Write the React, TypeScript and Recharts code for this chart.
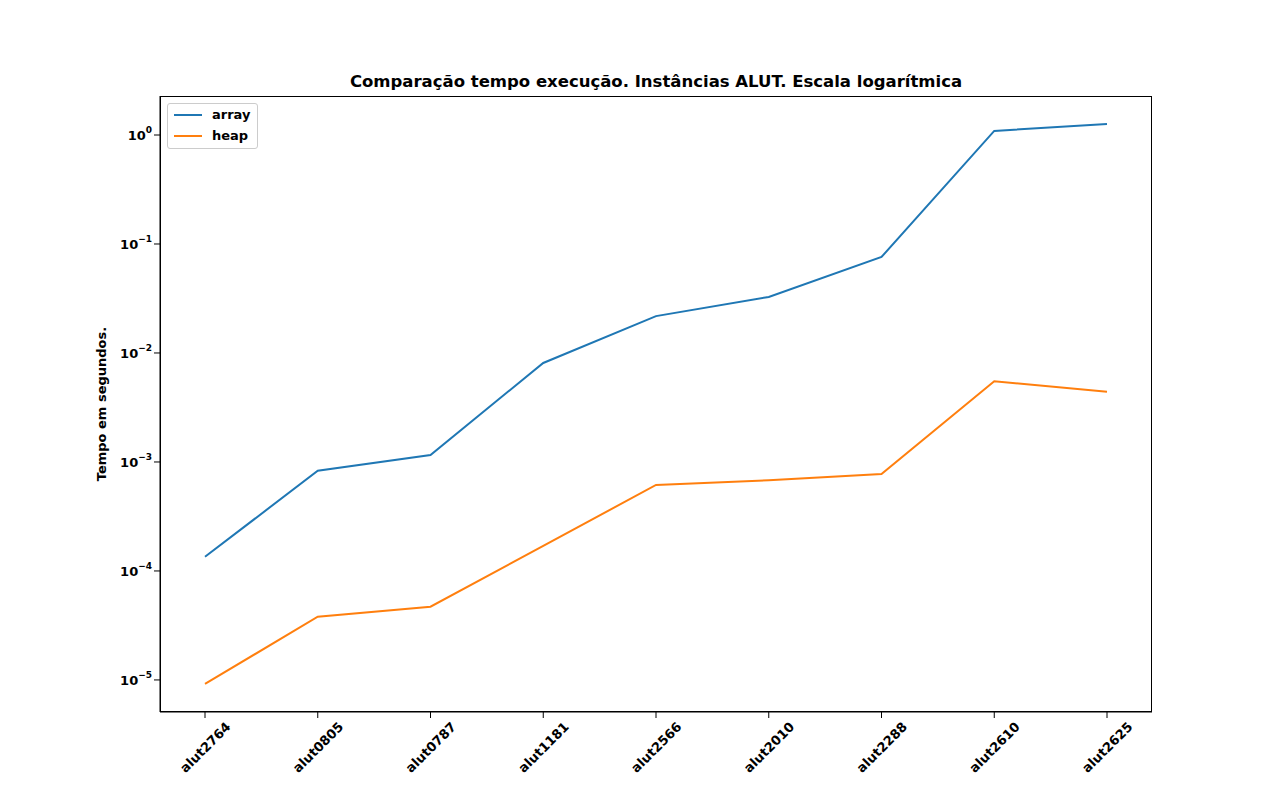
import { LineChart, Line, XAxis, YAxis } from "recharts";

const instances = ["alut2764", "alut0805", "alut0787", "alut1181", "alut2566", "alut2010", "alut2288", "alut2610", "alut2625"];
const arrayTimes = [1.35e-4, 8.3e-4, 1.16e-3, 8.1e-3, 0.0218, 0.0327, 0.076, 1.09, 1.26];
const heapTimes = [9.2e-6, 3.8e-5, 4.7e-5, 1.7e-4, 6.15e-4, 6.8e-4, 7.76e-4, 5.5e-3, 4.4e-3];
const yTicks = [1e-5, 1e-4, 1e-3, 1e-2, 1e-1, 1];
const yExps = ["−5", "−4", "−3", "−2", "−1", "0"];

const data = instances.map((name, i) => ({ name, array: arrayTimes[i], heap: heapTimes[i] }));
const font = "'DejaVu Sans', sans-serif";

const YTick = (props: any) => {
  const { x, y, payload } = props;
  const i = yTicks.findIndex((t) => Math.abs(Math.log10(t) - Math.log10(payload.value)) < 0.01);
  return (
    <text x={x} y={y + 5} textAnchor="end" fontSize={13} fontWeight="bold" fontFamily={font} fill="#000">
      10
      <tspan dy={-7} fontSize={9}>{yExps[i]}</tspan>
    </text>
  );
};

const XTick = (props: any) => {
  const { x, y, payload } = props;
  const cx = x;
  const cy = y + 27;
  return (
    <text x={cx} y={cy + 5} textAnchor="middle" transform={`rotate(-45 ${cx} ${cy})`} fontSize={13} fontWeight="bold" fontFamily={font} fill="#000">
      {payload.value}
    </text>
  );
};

export default function App() {
  return (
    <div style={{ position: "absolute", left: 0, top: 0, width: 1280, height: 800, background: "#fff", fontFamily: font }}>
      <div style={{ position: "absolute", top: 72, width: 1312, textAlign: "center", fontSize: 16.5, fontWeight: "bold" }}>
        Comparação tempo execução. Instâncias ALUT. Escala logarítmica
      </div>
      <LineChart width={1280} height={800} data={data} margin={{ top: 96, right: 128, bottom: 28, left: 100 }}>
        <XAxis dataKey="name" height={60} padding={{ left: 45, right: 45 }} tick={<XTick />} tickLine={{ stroke: "#000" }} axisLine={{ stroke: "#000" }} interval={0} />
        <YAxis scale="log" domain={[5.08e-6, 2.28]} allowDataOverflow ticks={yTicks} width={60} tick={<YTick />} tickLine={{ stroke: "#000" }} axisLine={{ stroke: "#000" }} />
        <Line type="linear" dataKey="array" stroke="#1f77b4" strokeWidth={2} dot={false} isAnimationActive={false} />
        <Line type="linear" dataKey="heap" stroke="#ff7f0e" strokeWidth={2} dot={false} isAnimationActive={false} />
      </LineChart>
      <div style={{ position: "absolute", left: 160, top: 96, width: 992, height: 616, border: "1px solid #000", boxSizing: "border-box", pointerEvents: "none" }} />
      <div style={{ position: "absolute", left: 101, top: 404, transform: "translate(-50%, -50%) rotate(-90deg)", fontSize: 13, fontWeight: "bold", whiteSpace: "nowrap" }}>
        Tempo em segundos.
      </div>
      <div style={{ position: "absolute", left: 167, top: 103, width: 91, height: 46, border: "1px solid #ccc", borderRadius: 3, boxSizing: "border-box", fontSize: 13, fontWeight: "bold" }}>
        {[["array", "#1f77b4"], ["heap", "#ff7f0e"]].map(([n, c], i) => (
          <div key={n} style={{ position: "absolute", left: 6, top: 3 + i * 21, display: "flex", alignItems: "center" }}>
            <span style={{ display: "inline-block", width: 28, height: 2, background: c, marginRight: 10 }} />
            {n}
          </div>
        ))}
      </div>
    </div>
  );
}
